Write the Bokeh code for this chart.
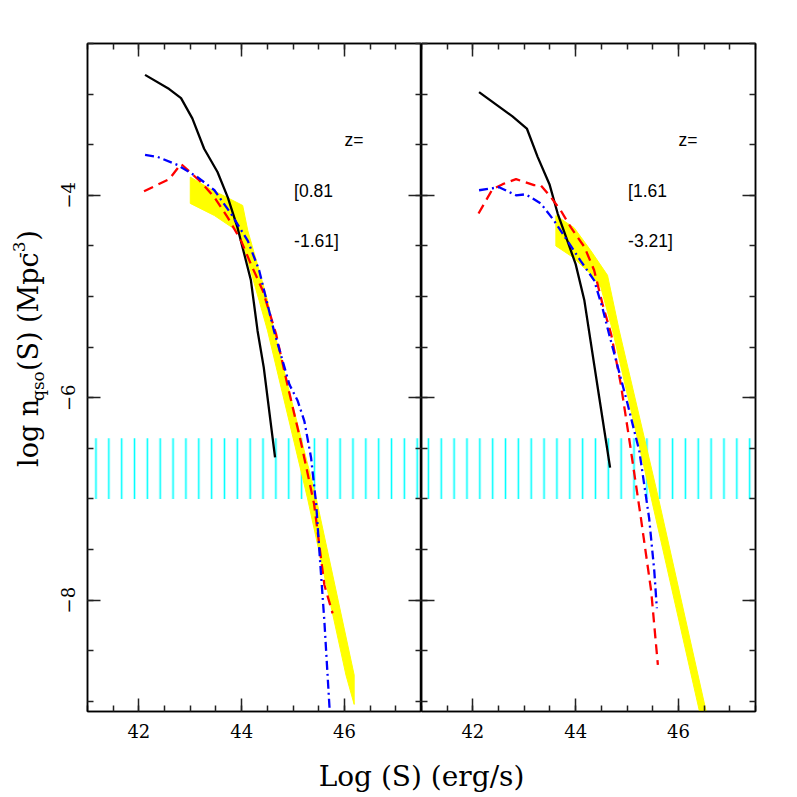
import math
from bokeh.plotting import figure
from bokeh.models import Range1d, SingleIntervalTicker, LinearAxis, CustomJSTickFormatter
from bokeh.layouts import row, column
from bokeh.embed import file_html
from bokeh.resources import INLINE
from bokeh.core.properties import value

# ---------------- data ----------------
x_limits = (41.0, 47.5)
y_limits = (-9.1, -2.5)
y_tick_labels = {-4: "\u22124", -6: "\u22126", -8: "\u22128"}

# hatched (cyan) region
hatch_bottom = -7.0
hatch_top = -6.4

# left panel, z = [0.81 - 1.61]
black_L_x = [42.12, 42.59, 42.82, 43.04, 43.27, 43.53, 43.73, 43.92, 44.05, 44.18, 44.31, 44.43, 44.65]
black_L_y = [-2.81, -2.95, -3.04, -3.24, -3.54, -3.77, -4.02, -4.32, -4.58, -4.84, -5.34, -5.70, -6.59]
red_L_x = [42.10, 42.59, 42.82, 43.21, 43.47, 43.73, 43.99, 44.18, 44.41, 44.67, 44.89, 45.15, 45.41, 45.61, 45.77]
red_L_y = [-3.96, -3.84, -3.69, -3.87, -4.02, -4.22, -4.45, -4.68, -4.94, -5.37, -5.87, -6.43, -7.05, -7.85, -8.13]
blue_L_x = [42.12, 42.36, 42.75, 43.14, 43.47, 43.79, 44.12, 44.34, 44.63, 44.93, 45.09, 45.22, 45.35, 45.45, 45.53, 45.61, 45.72]
blue_L_y = [-3.60, -3.62, -3.70, -3.82, -3.95, -4.18, -4.45, -4.74, -5.34, -5.87, -6.03, -6.23, -6.59, -7.05, -7.64, -8.21, -9.15]
band_L_upper_x = [43.0, 43.4, 44.02, 44.12, 44.34, 44.505, 44.63, 45.45, 46.19]
band_L_upper_y = [-3.82, -3.94, -4.10, -4.35, -4.74, -5.04, -5.34, -6.99, -8.74]
band_L_lower_x = [43.0, 43.47, 43.85, 43.99, 44.12, 44.34, 44.505, 45.28, 46.03, 46.19]
band_L_lower_y = [-4.08, -4.20, -4.33, -4.41, -4.65, -5.04, -5.34, -6.99, -8.74, -9.03]

# right panel, z = [1.61 - 3.21]
black_R_x = [42.12, 42.77, 43.05, 43.26, 43.49, 43.65, 43.84, 44.00, 44.17, 44.36, 44.46, 44.67]
black_R_y = [-2.98, -3.22, -3.34, -3.62, -3.89, -4.18, -4.45, -4.68, -5.04, -5.67, -6.00, -6.69]
red_R_x = [42.11, 42.38, 42.58, 42.84, 43.19, 43.32, 43.52, 43.71, 43.91, 44.17, 44.36, 44.52, 44.69, 44.88, 45.04, 45.27, 45.47, 45.60]
red_R_y = [-4.18, -3.94, -3.89, -3.84, -3.90, -3.90, -4.02, -4.15, -4.32, -4.51, -4.74, -5.07, -5.37, -5.87, -6.40, -7.19, -7.91, -8.64]
blue_R_x = [42.12, 42.51, 42.84, 43.03, 43.32, 43.58, 43.84, 44.10, 44.36, 44.52, 44.65, 45.01, 45.24, 45.43, 45.53, 45.58]
blue_R_y = [-3.95, -3.92, -4.00, -3.99, -4.08, -4.25, -4.45, -4.65, -4.84, -5.11, -5.37, -6.06, -6.53, -7.19, -7.71, -8.08]
band_R_upper_x = [43.615, 43.97, 44.30, 44.62, 44.85, 45.61, 46.54]
band_R_upper_y = [-4.20, -4.32, -4.55, -4.79, -5.34, -6.99, -9.10]
band_R_lower_x = [43.615, 43.94, 44.30, 44.49, 44.72, 45.47, 46.41]
band_R_lower_y = [-4.50, -4.61, -4.78, -4.91, -5.34, -6.99, -9.10]

z_text = ["z=", "z="]
z_low_text = ["[0.81", "[1.61"]
z_high_text = ["-1.61]", "-3.21]"]
text_x = [46.0, 45.02, 45.02]
text_y = [-3.45, -3.96, -4.45]

# ---------------- styling ----------------
FRAME_W, FRAME_H = 334, 668
TOP, BOTTOM = 43, 40
LEFT, RIGHT = 87, 35
YW = 50                      # width of the strip holding the y title
XH = 46                      # height of the strip holding the x title
SERIF = "DejaVu Serif"
SANS = "Liberation Sans"


def make_axis(show_labels, vertical=False):
    ax = LinearAxis(ticker=SingleIntervalTicker(interval=2, num_minor_ticks=4))
    ax.major_tick_in = 13
    ax.major_tick_out = 0
    ax.minor_tick_in = 6
    ax.minor_tick_out = 0
    ax.axis_line_color = "black"
    ax.axis_line_width = 1.5
    ax.major_tick_line_color = "#222222"
    ax.minor_tick_line_color = "#222222"
    ax.major_tick_line_width = 1.5
    ax.minor_tick_line_width = 1.5
    if show_labels:
        ax.major_label_text_font = SERIF
        ax.major_label_text_font_size = "18px"
        ax.major_label_text_color = "black"
        ax.major_label_standoff = 12
        if vertical:
            ax.major_label_orientation = "vertical"
            ax.major_label_overrides = y_tick_labels
    else:
        ax.formatter = CustomJSTickFormatter(code="return ''")
        ax.major_label_standoff = 0
    return ax


def make_panel(left_labels, min_left, min_right, bx, by, lx, ly, bandux, banduy, bandlx, bandly,
               zt, zlo, zhi):
    p = figure(x_range=Range1d(*x_limits), y_range=Range1d(*y_limits),
               frame_width=FRAME_W, frame_height=FRAME_H,
               output_backend="svg", toolbar_location=None,
               x_axis_location=None, y_axis_location=None,
               min_border_left=min_left, min_border_right=min_right,
               min_border_top=TOP, min_border_bottom=BOTTOM)
    p.grid.visible = False
    p.outline_line_color = "black"
    p.outline_line_width = 1.5
    p.background_fill_color = "white"
    p.border_fill_color = "white"

    p.add_layout(make_axis(True), "below")
    p.add_layout(make_axis(False), "above")
    p.add_layout(make_axis(left_labels, vertical=True), "left")
    p.add_layout(make_axis(False), "right")

    # hatched region
    p.quad(left=x_limits[0], right=x_limits[1], bottom=hatch_bottom, top=hatch_top,
           fill_color=None, line_color=None, hatch_pattern="|",
           hatch_color="#00ffff", hatch_scale=12.85, hatch_weight=1.6)

    # yellow band
    p.patch(bandux + bandlx[::-1], banduy + bandly[::-1],
            fill_color="#ffff00", line_color="#ffff00", line_width=1)

    p.line(bx, by, line_color="black", line_width=2.3)
    p.line(lx[0], lx[1], line_color="#ff0000", line_width=2.3, line_dash="10 6")
    p.line(ly[0], ly[1], line_color="#0000ff", line_width=2.3, line_dash="9 4 2 4")

    for t, xx, yy in zip([zt, zlo, zhi], text_x, text_y):
        p.text(x=[xx], y=[yy], text=[t], text_font=value(SANS), text_font_size="17.5px",
               text_align="left", text_baseline="middle", text_color="black")
    return p


pL = make_panel(True, LEFT - YW, 0, black_L_x, black_L_y, (red_L_x, red_L_y), (blue_L_x, blue_L_y),
                band_L_upper_x, band_L_upper_y, band_L_lower_x, band_L_lower_y,
                z_text[0], z_low_text[0], z_high_text[0])
pR = make_panel(False, 0, RIGHT, black_R_x, black_R_y, (red_R_x, red_R_y), (blue_R_x, blue_R_y),
                band_R_upper_x, band_R_upper_y, band_R_lower_x, band_R_lower_y,
                z_text[1], z_low_text[1], z_high_text[1])

# ---- y title strip (pixel coordinates, origin at bottom-left) ----
PANEL_H = TOP + FRAME_H + BOTTOM
pY = figure(width=YW, height=PANEL_H, x_range=Range1d(0, YW), y_range=Range1d(0, PANEL_H),
            output_backend="svg", toolbar_location=None,
            x_axis_location=None, y_axis_location=None, min_border=0)
pY.grid.visible = False
pY.outline_line_color = None

W = {"l": .320, "o": .602, "g": .635, " ": .318, "n": .644, "q": .640, "s": .513,
     "(": .390, ")": .390, "S": .685, "M": .995, "p": .640, "c": .560, "-": .338, "3": .636}
F_MAIN, F_SMALL = 27, 17
# text, font size, offset across the text line (px), gap after (px)
pieces = [("log n", F_MAIN, 0, 2), ("qso", F_SMALL, 9, 2), ("(S) (Mpc", F_MAIN, 0, 2),
          ("-3", F_SMALL, -10, 2), (")", F_MAIN, 0, 0)]
cx = 28                       # centre line of the title
ys = PANEL_H - 476            # start of the title (page y 476)
for txt, fs, dx, gap in pieces:
    pY.text(x=[cx + dx], y=[ys], text=[txt], angle=math.pi / 2,
            text_font=value(SERIF), text_font_size=f"{fs}px",
            text_align="left", text_baseline="middle", text_color="black")
    ys += sum(W.get(c, .6) for c in txt) * fs * 1.06 + gap

# ---- x title strip ----
total_w = LEFT + 2 * FRAME_W + RIGHT
pX = figure(width=total_w, height=XH, x_range=Range1d(0, total_w), y_range=Range1d(0, XH),
            output_backend="svg", toolbar_location=None,
            x_axis_location=None, y_axis_location=None, min_border=0)
pX.grid.visible = False
pX.outline_line_color = None
pX.text(x=[LEFT + FRAME_W], y=[XH - 25], text=["Log (S) (erg/s)"],
        text_font=value(SERIF), text_font_size="28px",
        text_align="center", text_baseline="middle", text_color="black")

layout = column(row(pY, pL, pR, spacing=0), pX, spacing=0)
open("out.html", "w").write(file_html(layout, INLINE))
